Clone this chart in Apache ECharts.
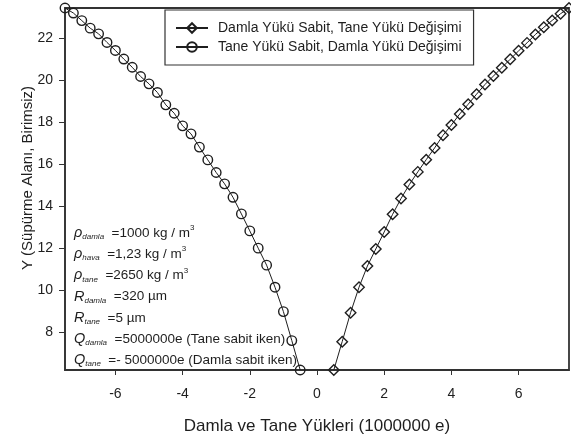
<!DOCTYPE html>
<html>
<head>
<meta charset="utf-8">
<script src="https://cdn.jsdelivr.net/npm/echarts@6/dist/echarts.min.js"></script>
<style>
  html, body { margin: 0; padding: 0; background: #fff; }
  #chart { width: 571px; height: 437px; }
</style>
</head>
<body>
<div id="chart"></div>
<script>
// Charge values (in units of 1,000,000 e) and the resulting swept area Y
const chargeTane = [0.5, 0.75, 1.0, 1.25, 1.5, 1.75, 2.0, 2.25, 2.5, 2.75, 3.0, 3.25, 3.5, 3.75, 4.0,
  4.25, 4.5, 4.75, 5.0, 5.25, 5.5, 5.75, 6.0, 6.25, 6.5, 6.75, 7.0, 7.25, 7.5];
const areaTane = [6.19, 7.54, 8.92, 10.13, 11.14, 11.95, 12.76, 13.60, 14.35, 15.02, 15.62, 16.20, 16.76, 17.36, 17.85,
  18.38, 18.84, 19.32, 19.78, 20.18, 20.58, 20.98, 21.38, 21.76, 22.16, 22.50, 22.83, 23.15, 23.42];

const chargeDamla = [-7.5, -7.25, -7.0, -6.75, -6.5, -6.25, -6.0, -5.75, -5.5, -5.25, -5.0, -4.75, -4.5, -4.25, -4.0,
  -3.75, -3.5, -3.25, -3.0, -2.75, -2.5, -2.25, -2.0, -1.75, -1.5, -1.25, -1.0, -0.75, -0.5];
const areaDamla = [23.42, 23.18, 22.82, 22.46, 22.19, 21.78, 21.40, 20.99, 20.60, 20.16, 19.81, 19.40, 18.81, 18.41, 17.81,
  17.43, 16.80, 16.19, 15.59, 15.05, 14.41, 13.62, 12.81, 11.99, 11.18, 10.13, 8.97, 7.59, 6.19];

const seriesNames = ['Damla Yükü Sabit, Tane Yükü Değişimi', 'Tane Yükü Sabit, Damla Yükü Değişimi'];
const xTicks = [-6, -4, -2, 0, 2, 4, 6];
const yTicks = [8, 10, 12, 14, 16, 18, 20, 22];
const xRange = [-7.5, 7.5];
const yRange = [6.19, 23.42];

const ink = '#1e1e1e';
const font = 'Liberation Sans, Arial, sans-serif';

function pairs(xs, ys) { return xs.map((x, i) => [x, ys[i]]); }

const markerStyle = { color: 'rgba(255,255,255,0)', borderColor: ink, borderWidth: 1.4 };

const chart = echarts.init(document.getElementById('chart'), null, { renderer: 'canvas' });

chart.setOption({
  animation: false,
  backgroundColor: '#fff',
  grid: {
    left: 65, right: 2, top: 8, bottom: 67, outerBoundsMode: 'none',
    show: true, borderColor: '#333', borderWidth: 1.8, backgroundColor: 'transparent'
  },
  legend: {
    orient: 'vertical', left: 165, top: 10,
    padding: [11, 12, 11, 10],
    itemWidth: 32, itemHeight: 12, itemGap: 5,
    borderColor: '#333', borderWidth: 1.2, backgroundColor: '#fff',
    textStyle: { fontFamily: font, fontSize: 14, color: ink, padding: [0, 0, 0, 5] },
    data: seriesNames
  },
  xAxis: {
    type: 'value', min: xRange[0], max: xRange[1],
    name: 'Damla ve Tane Yükleri (1000000 e)', nameLocation: 'middle', nameGap: 48, nameMoveOverlap: false,
    nameTextStyle: { fontFamily: font, fontSize: 17, color: ink },
    axisLine: { onZero: false, lineStyle: { color: '#333', width: 1.5 } },
    axisTick: { show: true, length: 5, customValues: xTicks, lineStyle: { color: '#333' } },
    axisLabel: { customValues: xTicks, margin: 17, fontFamily: font, fontSize: 14, color: ink },
    splitLine: { show: false }
  },
  yAxis: {
    type: 'value', min: yRange[0], max: yRange[1],
    name: 'Y (Süpürme Alanı, Birimsiz)', nameLocation: 'middle', nameGap: 30, nameMoveOverlap: false,
    nameTextStyle: { fontFamily: font, fontSize: 15, color: ink, padding: [0, 0, 0, 22] },
    axisLine: { show: true, onZero: false, lineStyle: { color: '#333', width: 1.5 } },
    axisTick: { show: true, length: 6, customValues: yTicks, lineStyle: { color: '#333' } },
    axisLabel: { customValues: yTicks, margin: 12, fontFamily: font, fontSize: 14, color: ink },
    splitLine: { show: false }
  },
  series: [
    {
      name: seriesNames[0], type: 'line', data: pairs(chargeTane, areaTane),
      symbol: 'diamond', symbolSize: 10.5, clip: false,
      lineStyle: { color: ink, width: 1 }, itemStyle: markerStyle
    },
    {
      name: seriesNames[1], type: 'line', data: pairs(chargeDamla, areaDamla),
      symbol: 'circle', symbolSize: 9.5, clip: false,
      lineStyle: { color: ink, width: 1 }, itemStyle: markerStyle
    }
  ],
  graphic: [{
    type: 'text', left: 74, top: 224,
    style: {
      fontFamily: font, fill: ink,
      rich: {
        m: { fontSize: 13.5, lineHeight: 21.2, fontFamily: font, fill: ink },
        s: { fontSize: 14.5, lineHeight: 21.2, fontStyle: 'italic', fontFamily: font, fill: ink },
        b: { fontSize: 8, verticalAlign: 'middle', padding: [8, 0, 0, 0], fontStyle: 'italic', fontFamily: font, fill: ink },
        p: { fontSize: 8, verticalAlign: 'middle', padding: [0, 0, 10, 0], fontFamily: font, fill: ink }
      },
      text: [
        '{s|ρ}{b|damla}{m|  =1000 kg / m}{p|3}',
        '{s|ρ}{b|hava}{m|  =1,23 kg / m}{p|3}',
        '{s|ρ}{b|tane}{m|  =2650 kg / m}{p|3}',
        '{s|R}{b|damla}{m|  =320 µm}',
        '{s|R}{b|tane}{m|  =5 µm}',
        '{s|Q}{b|damla}{m|  =5000000e (Tane sabit iken)}',
        '{s|Q}{b|tane}{m|  =- 5000000e (Damla sabit iken)}'
      ].join('\n')
    }
  }]
});
</script>
</body>
</html>
